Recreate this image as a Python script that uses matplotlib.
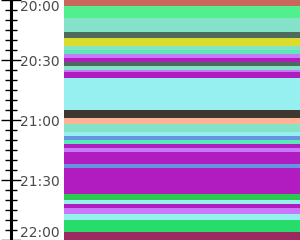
import matplotlib
matplotlib.use("Agg")
import matplotlib.pyplot as plt
from matplotlib.ticker import FuncFormatter

# ---------------------------------------------------------
# DATA  (segment start times and the state shown in each)
# ---------------------------------------------------------

starts = ["20:00", "20:03", "20:09", "20:16", "20:19", "20:23", "20:25", "20:27",
          "20:29", "20:31", "20:33", "20:35", "20:36", "20:39", "20:55", "20:59",
          "21:02", "21:06", "21:08", "21:10", "21:12", "21:14", "21:16", "21:22",
          "21:24", "21:37", "21:40", "21:42", "21:44", "21:47", "21:50", "21:56"]
end_time = "22:00"

states = ["red", "green", "aqua", "slate", "yellow", "aqua", "mint", "lilac",
          "purple", "slate", "aqua", "lilac", "purple", "turquoise", "brown", "peach",
          "aqua", "turquoise", "blue", "mint", "purple", "lilac", "purple", "blue",
          "purple", "grass", "turquoise", "purple", "lilac", "turquoise", "emerald", "maroon"]

palette = {
    "red": "#c8675a",
    "green": "#50f08c",
    "aqua": "#84e2c8",
    "slate": "#4e6a5a",
    "yellow": "#dcdc2c",
    "mint": "#5ae8b8",
    "lilac": "#c878f8",
    "purple": "#b01cc0",
    "turquoise": "#96f0f0",
    "brown": "#403830",
    "peach": "#ffb496",
    "blue": "#6496e0",
    "grass": "#2cc850",
    "emerald": "#28dc6c",
    "maroon": "#9a2a60",
}


def to_min(t):
    h, m = t.split(":")
    return int(h) * 60 + int(m)


start_min = [to_min(t) for t in starts]
end_min = start_min[1:] + [to_min(end_time)]
durations = [e - s for s, e in zip(start_min, end_min)]
t0, t1 = start_min[0], to_min(end_time)

# ---------------------------------------------------------
# FIGURE
# ---------------------------------------------------------

fig = plt.figure(figsize=(3, 2.4), dpi=100)
ax = fig.add_axes([64 / 300, 0, 236 / 300, 1])

ax.bar([0] * len(start_min), durations, bottom=start_min, width=1, align="edge",
       color=[palette[s] for s in states], linewidth=0)

ax.set_xlim(0, 1)
ax.set_ylim(t1, t0)

for side in ["top", "right", "bottom"]:
    ax.spines[side].set_visible(False)
ax.spines["left"].set_position(("outward", 38.5))
ax.spines["left"].set_linewidth(2.2)
ax.set_xticks([])

ax.set_yticks(list(range(t0, t1 + 1, 30)))
ax.set_yticks(list(range(t0, t1 + 1, 5)), minor=True)
ax.yaxis.set_major_formatter(FuncFormatter(lambda v, p: f"{int(v) // 60}:{int(v) % 60:02d}"))
ax.tick_params(axis="y", which="major", direction="inout", length=14.4, width=1.0,
               pad=-14.0, labelsize=10, labelcolor="#4a4a4a")
ax.tick_params(axis="y", which="minor", direction="inout", length=8.0, width=1.0)

labels = ax.get_yticklabels()
for lab in labels:
    lab.set_ha("left")
labels[0].set_va("top")
labels[-1].set_va("bottom")

fig.savefig("out.png", dpi=100)
